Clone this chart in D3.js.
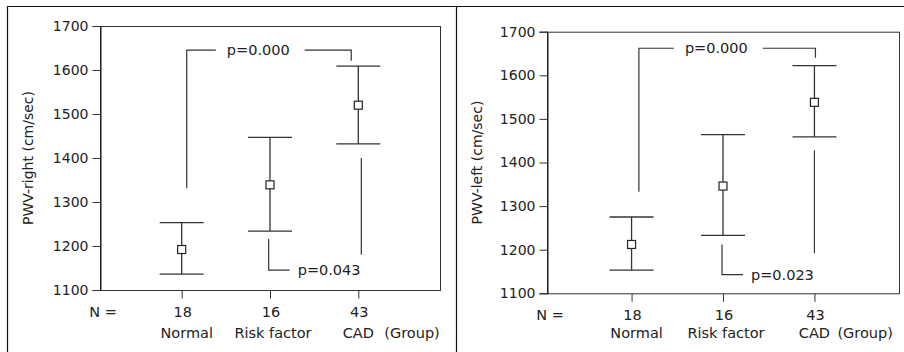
<!DOCTYPE html>
<html>
<head>
<meta charset="utf-8">
<script src="https://cdn.jsdelivr.net/npm/d3@7"></script>
<style>
  body { margin: 0; background: #fff; }
  text { font-family: "DejaVu Sans", sans-serif; fill: #222; }
</style>
</head>
<body>
<div id="chart"></div>
<script>
// values
const groups = ["Normal", "Risk factor", "CAD"];
const counts = [18, 16, 43];
const yTicks = [1100, 1200, 1300, 1400, 1500, 1600, 1700];

const rightMean  = [1192, 1339, 1520];
const rightUpper = [1253, 1447, 1609];
const rightLower = [1136, 1234, 1432];

const leftMean  = [1212, 1346, 1538];
const leftUpper = [1275, 1464, 1622];
const leftLower = [1153, 1233, 1459];

const pTop = ["p=0.000", "p=0.000"];
const pBottom = ["p=0.043", "p=0.023"];
// bracket ends (group index, value): Normal-CAD over the top, Risk-CAD under
const topBracket = [
  {from: [0.057, 1331, 1645], to: [1.92, 1621], label: 0.867},
  {from: [0.08, 1333, 1662], to: [2.011, 1640], label: 0.927}
];
const lowBracket = [
  {risk: [0.985, 1216, 1145], cad: [2.034, 1400, 1180]},
  {risk: [0.989, 1212, 1143], cad: [2.0, 1428, 1192]}
];

const W = 904, H = 352;
const fs = "14.5px";
const svg = d3.select("#chart").append("svg")
    .attr("width", W).attr("height", H);

// outer frame
svg.append("path")
    .attr("d", "M7.5," + H + "V6.5H" + W + "M456.5,6.5V" + H)
    .attr("fill", "none").attr("stroke", "#111").attr("stroke-width", 1.2);

const panels = [
  {x0: 100, x1: 440, yTop: 26, yBot: 290, title: "PWV-right (cm/sec)", titleX: 28,
   mean: rightMean, upper: rightUpper, lower: rightLower, nY: 317, gY: 338, groupDx: 26},
  {x0: 547, x1: 899, yTop: 31.7, yBot: 293.3, title: "PWV-left (cm/sec)", titleX: 477,
   mean: leftMean, upper: leftUpper, lower: leftLower, nY: 320, gY: 338, groupDx: 23}
];

panels.forEach(function(p, k) {
  const g = svg.append("g");

  var x = d3.scaleLinear()
      .domain([-0.925, 2.925])
      .range([p.x0, p.x1]);
  var y = d3.scaleLinear()
      .domain([1100, 1700])
      .range([p.yBot, p.yTop]);

  // plot box
  g.append("rect")
      .attr("x", p.x0 + 0.5).attr("y", p.yTop + 0.5)
      .attr("width", p.x1 - p.x0).attr("height", p.yBot - p.yTop)
      .attr("fill", "none").attr("stroke", "#333").attr("stroke-width", 1);

  // y axis
  var yAxis = g.append("g")
      .attr("transform", "translate(" + (p.x0 + 0.5) + ",0)")
      .call(d3.axisLeft(y).tickValues(yTicks).tickSize(8).tickPadding(4).tickFormat(d3.format("d")));
  yAxis.select(".domain").attr("stroke", "#111");
  yAxis.selectAll(".tick line").attr("stroke", "#333");
  yAxis.selectAll("text").attr("font-size", "14px").attr("fill", "#222")
      .attr("font-family", "DejaVu Sans, sans-serif");

  // x ticks under the box
  var xAxis = g.append("g")
      .attr("transform", "translate(0," + (p.yBot + 0.5) + ")")
      .call(d3.axisBottom(x).tickValues([0, 1, 2]).tickSize(8).tickFormat(""));
  xAxis.select(".domain").remove();
  xAxis.selectAll(".tick line").attr("stroke", "#333");

  // y title
  g.append("text")
      .attr("transform", "translate(" + p.titleX + "," + ((p.yTop + p.yBot) / 2) + ") rotate(-90)")
      .attr("text-anchor", "middle").attr("dy", "0.35em")
      .attr("font-size", "14px")
      .text(p.title);

  // N row and group names
  g.append("text").attr("x", p.x0 + 3).attr("y", p.nY)
      .attr("text-anchor", "middle").attr("font-size", fs).text("N =");
  g.selectAll(".cnt").data(counts).enter().append("text")
      .attr("x", function(d, i) { return x(i) + 1; })
      .attr("y", p.nY)
      .attr("text-anchor", "middle").attr("font-size", fs)
      .text(function(d) { return d; });
  g.selectAll(".grp").data(groups).enter().append("text")
      .attr("x", function(d, i) { return x(i) + (i == 0 ? 5 : i == 1 ? 3 : 0); })
      .attr("y", p.gY)
      .attr("text-anchor", "middle").attr("font-size", fs)
      .text(function(d) { return d; });
  g.append("text").attr("x", x(2) + p.groupDx).attr("y", p.gY)
      .attr("font-size", fs).text("(Group)");

  // error bars
  var cap = 22;
  var bars = g.selectAll(".eb").data(groups).enter().append("g");
  bars.append("line")
      .attr("x1", function(d, i) { return x(i); }).attr("x2", function(d, i) { return x(i); })
      .attr("y1", function(d, i) { return y(p.upper[i]); })
      .attr("y2", function(d, i) { return y(p.lower[i]); });
  bars.append("line")
      .attr("x1", function(d, i) { return x(i) - cap; }).attr("x2", function(d, i) { return x(i) + cap; })
      .attr("y1", function(d, i) { return y(p.upper[i]); })
      .attr("y2", function(d, i) { return y(p.upper[i]); });
  bars.append("line")
      .attr("x1", function(d, i) { return x(i) - cap; }).attr("x2", function(d, i) { return x(i) + cap; })
      .attr("y1", function(d, i) { return y(p.lower[i]); })
      .attr("y2", function(d, i) { return y(p.lower[i]); });
  bars.selectAll("line").attr("stroke", "#333").attr("stroke-width", 1.3);
  bars.append("rect")
      .attr("x", function(d, i) { return x(i) - 4; })
      .attr("y", function(d, i) { return y(p.mean[i]) - 4; })
      .attr("width", 8).attr("height", 8)
      .attr("fill", "#fff").attr("stroke", "#222").attr("stroke-width", 1.2);

  // Normal vs CAD bracket
  var tb = topBracket[k];
  var tTxt = g.append("text")
      .attr("x", x(tb.label)).attr("y", y(tb.from[2]))
      .attr("dy", "0.35em").attr("text-anchor", "middle")
      .attr("font-size", fs).text(pTop[k]);
  var half = tTxt.node().getComputedTextLength() / 2 + 11;
  var hy = y(tb.from[2]);
  g.append("path")
      .attr("d", "M" + x(tb.from[0]) + "," + y(tb.from[1]) + "V" + hy + "H" + (x(tb.label) - half))
      .attr("fill", "none").attr("stroke", "#333").attr("stroke-width", 1.2);
  g.append("path")
      .attr("d", "M" + (x(tb.label) + half + 4) + "," + hy + "H" + x(tb.to[0]) + "V" + y(tb.to[1]))
      .attr("fill", "none").attr("stroke", "#333").attr("stroke-width", 1.2);

  // Risk vs CAD bracket
  var lb = lowBracket[k];
  var ly = y(lb.risk[2]);
  g.append("path")
      .attr("d", "M" + x(lb.risk[0]) + "," + y(lb.risk[1]) + "V" + ly + "h21")
      .attr("fill", "none").attr("stroke", "#333").attr("stroke-width", 1.2);
  g.append("text")
      .attr("x", x(lb.risk[0]) + 29).attr("y", ly)
      .attr("dy", "0.35em").attr("font-size", fs).text(pBottom[k]);
  g.append("line")
      .attr("x1", x(lb.cad[0])).attr("x2", x(lb.cad[0]))
      .attr("y1", y(lb.cad[1])).attr("y2", y(lb.cad[2]))
      .attr("stroke", "#333").attr("stroke-width", 1.2);
});
</script>
</body>
</html>
